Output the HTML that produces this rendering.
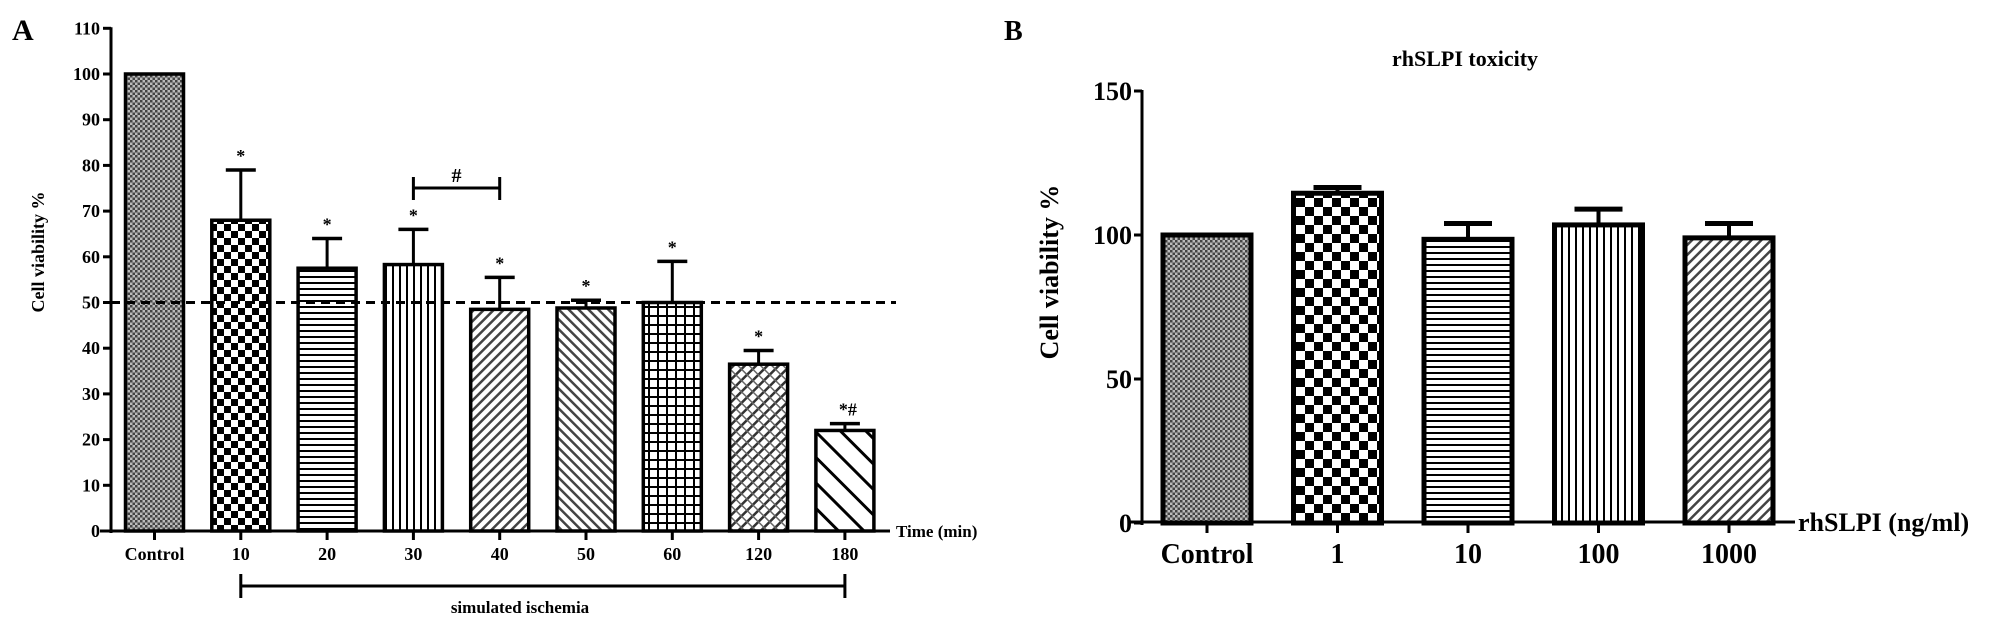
<!DOCTYPE html>
<html><head><meta charset="utf-8"><style>
body{margin:0;background:#fff;}
svg{display:block;font-family:"Liberation Serif",serif;font-weight:bold;}
</style></head><body>
<svg id="fig" width="2008" height="628" viewBox="0 0 2008 628" xmlns="http://www.w3.org/2000/svg">
<defs>
<pattern id="pFine" patternUnits="userSpaceOnUse" width="5" height="5"><rect width="5" height="5" fill="#bbb"/><rect width="2.5" height="2.5" fill="#444"/><rect x="2.5" y="2.5" width="2.5" height="2.5" fill="#444"/></pattern>
<pattern id="pChkA" patternUnits="userSpaceOnUse" width="14" height="14"><rect width="14" height="14" fill="#fff"/><rect width="7" height="7" fill="#000"/><rect x="7" y="7" width="7" height="7" fill="#000"/></pattern>
<pattern id="pChkB" patternUnits="userSpaceOnUse" width="18" height="18"><rect width="18" height="18" fill="#fff"/><rect width="9" height="9" fill="#000"/><rect x="9" y="9" width="9" height="9" fill="#000"/></pattern>
<pattern id="pH" patternUnits="userSpaceOnUse" width="6" height="6"><rect width="6" height="6" fill="#fff"/><rect y="0" width="6" height="2" fill="#000"/></pattern>
<pattern id="pV" patternUnits="userSpaceOnUse" width="7" height="7"><rect width="7" height="7" fill="#fff"/><rect width="2" height="7" fill="#000"/></pattern>
<pattern id="pD1" patternUnits="userSpaceOnUse" width="7" height="7" patternTransform="rotate(45)"><rect width="7" height="7" fill="#fff"/><rect width="2.5" height="7" fill="#444"/></pattern>
<pattern id="pD2" patternUnits="userSpaceOnUse" width="7" height="7" patternTransform="rotate(-45)"><rect width="7" height="7" fill="#fff"/><rect width="2.5" height="7" fill="#444"/></pattern>
<pattern id="pGrid" patternUnits="userSpaceOnUse" width="9" height="9"><rect width="9" height="9" fill="#fff"/><rect width="2" height="9" fill="#000"/><rect width="9" height="2" fill="#000"/></pattern>
<pattern id="pX" patternUnits="userSpaceOnUse" width="8" height="8" patternTransform="rotate(45)"><rect width="8" height="8" fill="#fff"/><rect width="2.5" height="8" fill="#333"/><rect width="8" height="1.5" fill="#666"/></pattern>
<pattern id="pWide" patternUnits="userSpaceOnUse" width="18" height="18" patternTransform="rotate(-45)"><rect width="18" height="18" fill="#fff"/><rect width="3" height="18" fill="#000"/></pattern>
</defs>
<g id="gA"></g>
<g id="gB"></g>
</svg>
<script>
const catsA=["Control","10","20","30","40","50","60","120","180"];
const valsA=[100,68,57.5,58.3,48.5,48.8,50,36.5,22];
const errA=[0,79,64,66,55.5,50.5,59,39.5,23.5];
const marksA=["","*","*","*","*","*","*","*","*#"];
const ticksA=[0,10,20,30,40,50,60,70,80,90,100,110];
const patsA=["pFine","pChkA","pH","pV","pD1","pD2","pGrid","pX","pWide"];
const refLineA=50;
const catsB=["Control","1","10","100","1000"];
const valsB=[100,114.5,98.5,103.5,99];
const errB=[0,116.5,104,109,104];
const ticksB=[0,50,100,150];
const patsB=["pFine","pChkB","pH","pV","pD1"];
const NS="http://www.w3.org/2000/svg";
function mk(p,tag,a,txt){const e=document.createElementNS(NS,tag);for(const k in a)e.setAttribute(k,a[k]);if(txt!==undefined)e.textContent=txt;p.appendChild(e);return e;}
// Panel A
(function(){
const g=document.getElementById('gA');
const yA=v=>531-v*4.57, xA=i=>154.5+i*86.3, bw=58;
let t=mk(g,'text',{x:12,y:40,'font-size':30},'A');

mk(g,'line',{x1:111,y1:yA(110)-1,x2:111,y2:533,stroke:'#000','stroke-width':3});
ticksA.forEach(v=>{mk(g,'line',{x1:103,y1:yA(v),x2:111,y2:yA(v),stroke:'#000','stroke-width':3});
let e=mk(g,'text',{x:100,y:yA(v)+6,'font-size':18,'text-anchor':'end'},v);
});
let yl=mk(g,'text',{x:0,y:0,'font-size':18,'text-anchor':'middle',transform:'translate(44,252) rotate(-90)'},'Cell viability %');

catsA.forEach((c,i)=>{
 const x=xA(i);
 if(errA[i]>valsA[i]){mk(g,'line',{x1:x,y1:yA(valsA[i]),x2:x,y2:yA(errA[i]),stroke:'#000','stroke-width':3});
 mk(g,'line',{x1:x-15,y1:yA(errA[i]),x2:x+15,y2:yA(errA[i]),stroke:'#000','stroke-width':3.5});}
 let r=mk(g,'rect',{x:x-bw/2,y:yA(valsA[i]),width:bw,height:yA(0)-yA(valsA[i]),fill:'url(#'+patsA[i]+')',stroke:'#000','stroke-width':3.5});
 
 mk(g,'line',{x1:x,y1:531,x2:x,y2:540,stroke:'#000','stroke-width':3});
 let l=mk(g,'text',{x:x,y:560,'font-size':18,'text-anchor':'middle'},c);
 
 if(marksA[i]){let s=mk(g,'text',{x:x+(marksA[i].length>1?3:0),y:Math.min(yA(errA[i]),yA(valsA[i]))-8,'font-size':18,'text-anchor':'middle'},marksA[i]);
 }
});
mk(g,'line',{x1:100,y1:531,x2:890,y2:531,stroke:'#000','stroke-width':3});
let tl=mk(g,'text',{x:896,y:537,'font-size':17},'Time (min)');

let dl=mk(g,'line',{x1:111,y1:yA(refLineA),x2:896,y2:yA(refLineA),stroke:'#000','stroke-width':3,'stroke-dasharray':'9,6'});

// # bracket
const by=188;
mk(g,'path',{d:`M${xA(3)} ${by-11}V${by+12}M${xA(3)} ${by}H${xA(4)}M${xA(4)} ${by-11}V${by+12}`,stroke:'#000','stroke-width':3,fill:'none'});
let h=mk(g,'text',{x:(xA(3)+xA(4))/2,y:182,'font-size':20,'text-anchor':'middle'},'#');

// ischemia bracket
mk(g,'path',{d:`M${xA(1)} 574V598M${xA(1)} 586H${xA(8)}M${xA(8)} 574V598`,stroke:'#000','stroke-width':3,fill:'none'});
let si=mk(g,'text',{x:520,y:613,'font-size':17,'text-anchor':'middle'},'simulated ischemia');

})();
// Panel B
(function(){
const g=document.getElementById('gB');
const yB=v=>523-v*2.88, xB=i=>1207+i*130.5, bw=88;
let t=mk(g,'text',{x:1004,y:40,'font-size':28},'B');

let ti=mk(g,'text',{x:1465,y:66,'font-size':22,'text-anchor':'middle'},'rhSLPI toxicity');

mk(g,'line',{x1:1142,y1:yB(150)-1,x2:1142,y2:525,stroke:'#000','stroke-width':3});
ticksB.forEach(v=>{mk(g,'line',{x1:1134,y1:yB(v),x2:1142,y2:yB(v),stroke:'#000','stroke-width':3});
let e=mk(g,'text',{x:1132,y:yB(v)+9,'font-size':26,'text-anchor':'end'},v);
});
let yl=mk(g,'text',{x:0,y:0,'font-size':26,'text-anchor':'middle',transform:'translate(1058,272) rotate(-90)'},'Cell viability %');

catsB.forEach((c,i)=>{
 const x=xB(i);
 if(errB[i]>valsB[i]){mk(g,'line',{x1:x,y1:yB(valsB[i]),x2:x,y2:yB(errB[i]),stroke:'#000','stroke-width':4});
 mk(g,'line',{x1:x-24,y1:yB(errB[i]),x2:x+24,y2:yB(errB[i]),stroke:'#000','stroke-width':5});}
 let r=mk(g,'rect',{x:x-bw/2,y:yB(valsB[i]),width:bw,height:yB(0)-yB(valsB[i]),fill:'url(#'+patsB[i]+')',stroke:'#000','stroke-width':5});
 
 mk(g,'line',{x1:x,y1:522,x2:x,y2:533,stroke:'#000','stroke-width':3});
 let l=mk(g,'text',{x:x,y:563,'font-size':28,'text-anchor':'middle'},c);
 
});
mk(g,'line',{x1:1128,y1:522,x2:1795,y2:522,stroke:'#000','stroke-width':3});
let xl=mk(g,'text',{x:1798,y:531,'font-size':26},'rhSLPI (ng/ml)');

})();
</script>
</body></html>
